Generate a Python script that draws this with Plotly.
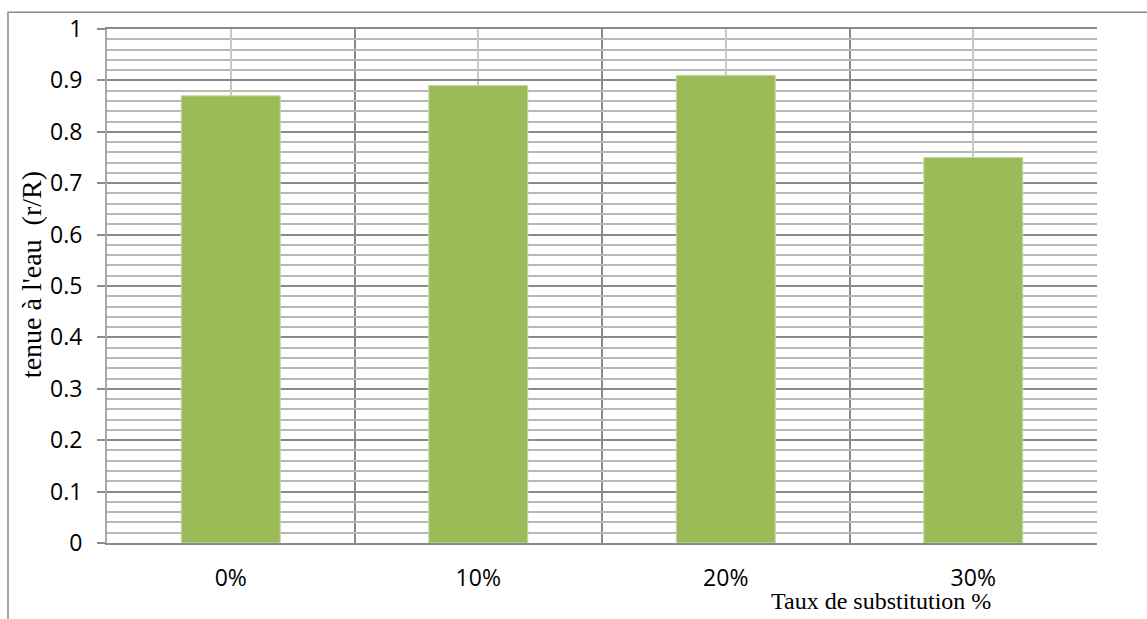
import plotly.graph_objects as go

# Water resistance ratio by substitution rate
categories = ["0%", "10%", "20%", "30%"]
values = [0.87, 0.89, 0.91, 0.75]
positions = [0, 1, 2, 3]
boundaries = [-0.5, 0.5, 1.5, 2.5, 3.5]

fig = go.Figure()
fig.add_trace(go.Bar(
    x=positions,
    y=values,
    width=0.4,
    marker=dict(color="#9BBB59", line=dict(color="#c6d9a0", width=1)),
    hoverinfo="y",
))

# plot area in pixels: left 107, right 1097, top 23, bottom 543
W, H = 1147, 619
L, R, T, B = 107, 50, 23, 76
pw, ph = W - L - R, H - T - B

def px_to_paper_x(px):
    return (px - L) / pw

def px_to_paper_y(py):
    return (H - B - py) / ph

# outer chart border (top and left edges visible)
fig.add_shape(type="rect", xref="paper", yref="paper",
              x0=px_to_paper_x(8), x1=px_to_paper_x(1160),
              y0=px_to_paper_y(640), y1=px_to_paper_y(6),
              line=dict(color="#8c8c8c", width=1.5), fillcolor="rgba(0,0,0,0)",
              layer="below")

fig.update_layout(
    width=W, height=H,
    margin=dict(l=L, r=R, t=T, b=B),
    paper_bgcolor="white",
    plot_bgcolor="white",
    showlegend=False,
    xaxis=dict(
        range=[-0.5, 3.5],
        tickvals=positions,
        ticktext=categories,
        showgrid=True,
        gridcolor="#c8c8c8",
        gridwidth=1.5,
        ticks="",
        ticklabelstandoff=13,
        tickfont=dict(family="Open Sans", size=23, color="black"),
        showline=True,
        mirror=True,
        linecolor="#8a8a8a",
        linewidth=2,
        zeroline=False,
        minor=dict(tickvals=boundaries, showgrid=True,
                   gridcolor="#8a8a8a", gridwidth=1.5, ticks=""),
    ),
    yaxis=dict(
        range=[0, 1],
        dtick=0.1,
        tick0=0,
        showgrid=True,
        gridcolor="#8a8a8a",
        gridwidth=1.5,
        ticks="outside",
        ticklen=8,
        tickcolor="#8a8a8a",
        tickwidth=1.5,
        ticklabelstandoff=10,
        tickfont=dict(family="Open Sans", size=23, color="black"),
        showline=True,
        linecolor="#a8a8a8",
        linewidth=2,
        zeroline=False,
        minor=dict(dtick=0.02, showgrid=True, gridcolor="#b8b8b8",
                   gridwidth=1.5, ticks=""),
    ),
    annotations=[
        dict(text="tenue à l'eau  (r/R)", xref="paper", yref="paper",
             x=px_to_paper_x(31), y=px_to_paper_y(272),
             xanchor="center", yanchor="middle", textangle=-90,
             showarrow=False,
             font=dict(family="Liberation Serif", size=28, color="black")),
        dict(text="Taux de substitution %", xref="paper", yref="paper",
             x=px_to_paper_x(881), y=px_to_paper_y(602),
             xanchor="center", yanchor="middle",
             showarrow=False,
             font=dict(family="Liberation Serif", size=24, color="black")),
    ],
)

fig.write_html("out.html")
